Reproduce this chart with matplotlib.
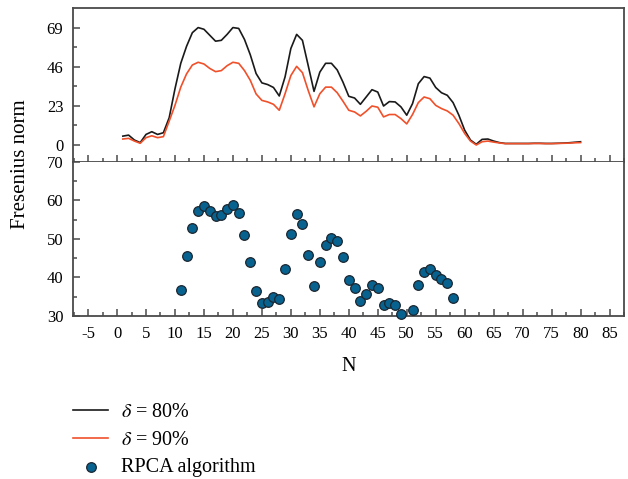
import numpy as np
import matplotlib
matplotlib.use("Agg")
import matplotlib.pyplot as plt
from matplotlib.ticker import MultipleLocator, FixedLocator

plt.rcParams['font.family'] = ['Liberation Serif', 'DejaVu Serif']
plt.rcParams['mathtext.fontset'] = 'stix'
plt.rcParams['axes.unicode_minus'] = False

# N for the two delta curves
n_line = list(range(1, 81))

# delta = 80% (black)
d80 = [5.2, 5.8, 2.9, 1.4, 6.2, 7.8, 6.2, 7.2, 16, 33,
       48, 58, 66, 69, 68, 64.5, 61, 61.5, 65, 69,
       68.5, 62, 53, 42, 36.5, 35.5, 33.8, 28.8, 40, 56.7,
       65, 61.5, 46.6, 31.5, 42.8, 48, 48, 44.1, 36.9, 28.6,
       27.6, 23.9, 28.2, 32.5, 31.1, 22.9, 25.5, 25.3, 22.4, 17.5,
       24.3, 36, 40.2, 39.3, 33.8, 30.7, 29.2, 24.9, 17.5, 8.7,
       2.9, 0.4, 3.3, 3.5, 2.3, 1.4, 0.9, 0.9, 0.9, 0.9,
       0.9, 1.0, 1.0, 0.9, 0.9, 1.0, 1.1, 1.3, 1.6, 1.9]

# delta = 90% (red)
d90 = [3.5, 3.9, 2.3, 1.0, 4.3, 5.4, 4.3, 4.9, 14, 23.3,
       34, 41.8, 47, 48.6, 47.6, 45, 43.1, 43.7, 46.6, 48.6,
       48, 43.7, 38, 30, 26.2, 25.3, 23.9, 20.4, 30.1, 40.8,
       46.2, 42.5, 32, 22.4, 30.1, 34, 34, 30.7, 25.7, 20.4,
       19.4, 17.1, 19.8, 22.9, 22.2, 16.5, 17.9, 17.9, 15.5, 12.4,
       17.9, 24.9, 28.2, 27.2, 23.3, 21.4, 20, 17.5, 12.6, 6.8,
       2.3, 0.0, 1.9, 2.3, 1.7, 1.2, 0.8, 0.8, 0.8, 0.8,
       0.8, 0.9, 0.9, 0.8, 0.8, 0.9, 1.0, 1.1, 1.3, 1.4]

# RPCA algorithm points
n_rpca = [11, 12, 13, 14, 15, 16, 17, 18, 19, 20,
          21, 22, 23, 24, 25, 26, 27, 28, 29, 30,
          31, 32, 33, 34, 35, 36, 37, 38, 39, 40,
          41, 42, 43, 44, 45, 46, 47, 48, 49, 51,
          52, 53, 54, 55, 56, 57, 58]
rpca = [36.7, 45.7, 52.9, 57.4, 58.5, 57.4, 56.0, 56.3, 57.8, 58.9,
        56.8, 51.0, 44.1, 36.5, 33.3, 33.7, 34.9, 34.4, 42.1, 51.4,
        56.4, 54.0, 45.9, 37.8, 44.0, 48.4, 50.3, 49.4, 45.2, 39.4,
        37.2, 34.0, 35.6, 38.0, 37.4, 32.8, 33.5, 32.8, 30.6, 31.5,
        38.0, 41.3, 42.1, 40.6, 39.7, 38.5, 34.6]

spine_c = '#4a4a4a'
fig = plt.figure(figsize=(6.28, 4.79), dpi=100)
ax1 = fig.add_axes([73/628, 1-162/479, (624-73)/628, (162-8)/479])
ax2 = fig.add_axes([73/628, 1-316/479, (624-73)/628, (316-162)/479])

l1, = ax1.plot(n_line, d80, color='#1a1a1a', lw=1.2, label=r'$\delta$ = 80%')
l2, = ax1.plot(n_line, d90, color='#f0502a', lw=1.2, label=r'$\delta$ = 90%')
sc = ax2.scatter(n_rpca, rpca, s=48, color='#08628f', edgecolor='#1b2630',
                 linewidth=0.9, zorder=3, clip_on=False, label='RPCA algorithm')

for ax in (ax1, ax2):
    ax.set_xlim(-7.6, 87.5)
    ax.xaxis.set_major_locator(FixedLocator(np.arange(-5, 90, 5)))
    ax.xaxis.set_minor_locator(MultipleLocator(2.5))
    for s in ax.spines.values():
        s.set_color(spine_c)
        s.set_linewidth(1.3)
    ax.tick_params(which='both', direction='in', color=spine_c, width=1.1,
                   labelsize=12, pad=7, right=False, top=False)
    ax.tick_params(which='major', length=5)
    ax.tick_params(which='minor', length=3)

ax1.set_ylim(-10, 80.5)
ax1.yaxis.set_major_locator(FixedLocator([0, 23, 46, 69]))
ax1.yaxis.set_minor_locator(FixedLocator([11.5, 34.5, 57.5]))
ax1.tick_params(axis='x', labelbottom=False)

ax2.set_ylim(30, 70)
ax2.yaxis.set_major_locator(MultipleLocator(10))
ax2.yaxis.set_minor_locator(MultipleLocator(5))
ax2.spines['top'].set_visible(False)
ax2.set_xlabel('N', fontsize=14.5, labelpad=11)

fig.text(0.033, 1-164/479, 'Fresenius norm', rotation=90, fontsize=15,
         ha='center', va='center')

fig.legend(handles=[l1, l2, sc], loc='upper left', frameon=False,
           bbox_to_anchor=(73/628, 1-403/479), fontsize=14.5,
           handlelength=1.75, handletextpad=0.65, labelspacing=0.42,
           borderpad=0, borderaxespad=0)

fig.savefig('out.png', dpi=100)
